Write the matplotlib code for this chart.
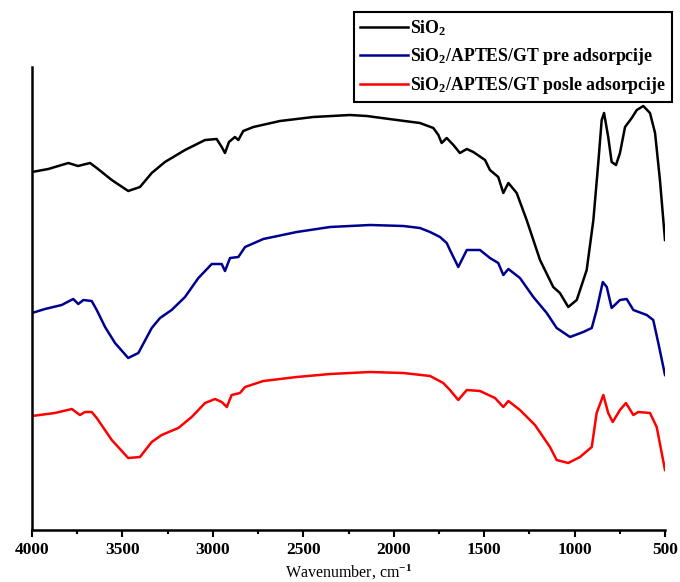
import numpy as np
import matplotlib.pyplot as plt
from matplotlib.ticker import MultipleLocator

plt.rcParams['font.family'] = 'Liberation Serif'
plt.rcParams['font.weight'] = 'bold'
plt.rcParams['mathtext.fontset'] = 'custom'
plt.rcParams['mathtext.rm'] = 'Liberation Serif:bold'
plt.rcParams['mathtext.it'] = 'Liberation Serif:bold'
plt.rcParams['mathtext.bf'] = 'Liberation Serif:bold'

# FTIR spectra, wavenumber (cm-1) vs. transmittance (a.u., offset)
wn_sio2 = [4000, 3910, 3799, 3746, 3679, 3642, 3559, 3468, 3403, 3338, 3265, 3154,
           3043, 2979, 2951, 2933, 2911, 2878, 2859, 2832, 2776, 2629, 2445, 2242,
           2149, 1983, 1855, 1781, 1753, 1735, 1707, 1670, 1634, 1596, 1560, 1495,
           1468, 1422, 1394, 1366, 1320, 1265, 1191, 1118, 1081, 1035, 988, 933,
           896, 869, 850, 837, 814, 795, 771, 749, 721, 684, 656, 620, 583, 555,
           528, 500]
t_sio2 = [358, 361, 367, 364, 367, 362, 350, 339, 343, 357, 368, 380,
          390, 391, 383, 377, 388, 393, 390, 399, 403, 409, 413, 415,
          414, 410, 407, 402, 395, 387, 392, 385, 377, 381, 378, 370,
          360, 353, 337, 347, 337, 310, 270, 243, 237, 223, 230, 260,
          310, 367, 410, 417, 393, 368, 365, 377, 403, 412, 420, 424, 417, 397,
          350, 290]

wn_pre = [4000, 3928, 3836, 3772, 3744, 3716, 3670, 3642, 3596, 3541, 3468, 3412,
          3338, 3292, 3228, 3154, 3080, 3006, 2951, 2933, 2905, 2859, 2822, 2721,
          2536, 2352, 2131, 1947, 1855, 1799, 1744, 1707, 1689, 1643, 1596, 1523,
          1468, 1422, 1394, 1366, 1302, 1228, 1154, 1099, 1025, 952, 905, 878,
          844, 822, 795, 749, 712, 675, 601, 565, 537, 500]
t_pre = [217, 221, 225, 231, 226, 230, 229, 220, 203, 187, 172, 177,
         202, 212, 220, 233, 252, 266, 266, 259, 272, 273, 283, 291,
         298, 303, 305, 304, 302, 298, 293, 287, 280, 263, 280, 280,
         272, 267, 255, 261, 252, 233, 217, 202, 193, 198, 202, 220,
         248, 243, 222, 230, 231, 220, 215, 210, 187, 155]

wn_posle = [4000, 3873, 3780, 3735, 3707, 3670, 3642, 3559, 3468, 3403, 3338, 3283,
            3191, 3117, 3043, 2988, 2951, 2923, 2896, 2850, 2822, 2721, 2536, 2352,
            2131, 1947, 1799, 1726, 1689, 1643, 1596, 1523, 1440, 1394, 1366, 1302,
            1219, 1136, 1099, 1035, 970, 905, 878, 841, 814, 789, 749, 716,
            675, 648, 583, 546, 500]
t_posle = [114, 117, 121, 115, 118, 118, 112, 90, 72, 73, 88, 95,
           102, 113, 127, 131, 128, 123, 135, 137, 143, 149, 153, 156,
           158, 157, 154, 147, 140, 130, 140, 139, 132, 123, 129, 120,
           105, 83, 70, 67, 73, 83, 117, 135, 117, 108, 120, 127,
           115, 118, 117, 103, 60]

labels = ['SiO$_2$', 'SiO$_2$/APTES/GT pre adsorpcije', 'SiO$_2$/APTES/GT posle adsorpcije']
colors = ['black', '#000090', '#ff0000']

fig = plt.figure(figsize=(6.8, 5.82), dpi=100)
ax = fig.add_axes([32/680, 1 - 530/582, 633/680, 463/582])

ax.plot(wn_sio2, t_sio2, color=colors[0], lw=1.8, label=labels[0])
ax.plot(wn_pre, t_pre, color=colors[1], lw=1.8, label=labels[1])
ax.plot(wn_posle, t_posle, color=colors[2], lw=1.8, label=labels[2])

ax.set_xlim(4000, 500)
ax.set_ylim(0, 463)
ax.xaxis.set_major_locator(MultipleLocator(500))
ax.xaxis.set_minor_locator(MultipleLocator(250))
ax.tick_params(axis='x', which='major', direction='out', length=5, width=1.5, labelsize=12.5, pad=4)
ax.tick_params(axis='x', which='minor', direction='out', length=3, width=1.5)
ax.set_yticks([])
ax.spines['top'].set_visible(False)
ax.spines['right'].set_visible(False)
ax.spines['left'].set_linewidth(1.8)
ax.spines['bottom'].set_linewidth(1.8)
ax.set_xlabel('Wavenumber, cm$^{-1}$', fontsize=11.5, labelpad=3)

leg = ax.legend(loc='upper right', bbox_to_anchor=(672/680, 1 - 12/582),
                bbox_transform=fig.transFigure, fontsize=12.8, handlelength=2.7,
                handletextpad=0.1, labelspacing=0.45, borderpad=0.35,
                borderaxespad=0, fancybox=False, framealpha=1)
leg.get_frame().set_edgecolor('black')
leg.get_frame().set_linewidth(1.5)

fig.savefig('out.png', dpi=100)
